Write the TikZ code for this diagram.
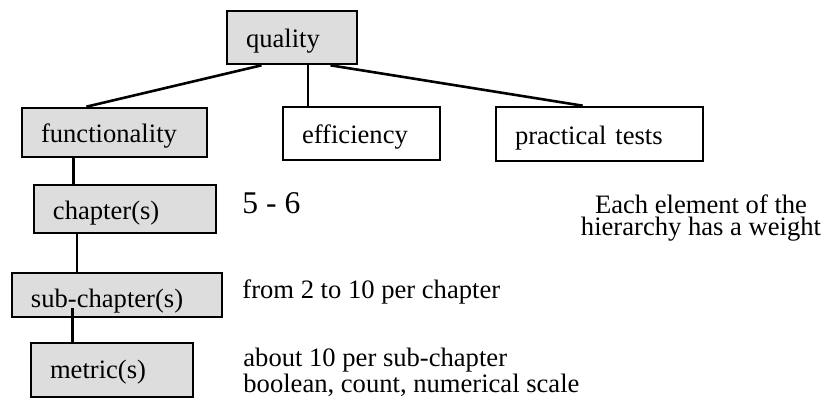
\documentclass[tikz,border=0pt]{standalone}
\usepackage{fontspec}
\setmainfont{Liberation Serif}
\usetikzlibrary{positioning, calc}
\definecolor{cBox}{HTML}{DDDDDD}

\begin{document}
\begin{tikzpicture}[
  x=0.5pt, y=-0.5pt,
  font=\fontsize{13.3}{12}\selectfont,
  box/.style={draw=black, line width=1.3pt, align=left, inner xsep=9.5pt,
              inner ysep=0pt, text height=12pt, text depth=2pt,
              text width=#1},
  grey/.style={fill=cBox},
  link/.style={draw=black, line width=1.3pt},
  note/.style={inner sep=0pt, align=left},
]
\useasboundingbox (0,0) rectangle (827,403);

% ====================== top level ======================================
\node[box=46pt, grey, minimum height=26.5pt] (quality) at (292,37.5) {quality};
\node[box=73.5pt, grey, minimum height=24.5pt] (func) at (114.5,132.5) {functionality};
\node[box=59.5pt, minimum height=26.5pt] (eff) at (361.5,133.5) {efficiency};
\node[box=84.5pt, minimum height=27pt] (tests) at (599.5,134) {practical tests};

\draw[link] ($(quality.south west)!.27!(quality.south east)$)
  -- ($(func.north west)!.35!(func.north east)$);
\draw[link] ($(quality.south west)!.62!(quality.south east)$) coordinate (qe)
  -- (qe |- eff.north);
\draw[link] ($(quality.south west)!.79!(quality.south east)$)
  -- ($(tests.north west)!.42!(tests.north east)$);

% ====================== functionality branch ===========================
\node[box=72pt, grey, minimum height=24pt] (chap) at (125,209) {chapter(s)};
\node[box=86pt, grey, minimum height=22pt, text depth=0pt] (sub) at (117,295) {sub-chapter(s)};
\node[box=62pt, grey, minimum height=27pt, text depth=4pt] (metric) at (112,370) {metric(s)};

\draw[link] ($(func.south west)!.28!(func.south east)$) coordinate (fc)
  -- (fc |- chap.north);
\draw[link] ($(chap.south west)!.24!(chap.south east)$) coordinate (cs)
  -- (cs |- sub.north);
\draw[link] ($(sub.south west)!.29!(sub.south east)+(0,-10)$) coordinate (sm)
  -- (sm |- metric.north);

% ====================== counts =========================================
\node[note, anchor=base west, font=\fontsize{15.8}{18}\selectfont] (nchap) at (242,213) {5 - 6};
\node[note, anchor=base west] (nsub) at (242,298) {from 2 to 10 per chapter};
\node[note, anchor=north west] (nmetric) at (243,348)
  {about 10 per sub-chapter\\boolean, count, numerical scale};

% weight remark
\node[note, align=center, anchor=north, font=\fontsize{13.3}{11}\selectfont] (weight) at (701,194)
  {Each element of the\\hierarchy has a weight};

\end{tikzpicture}
\end{document}
